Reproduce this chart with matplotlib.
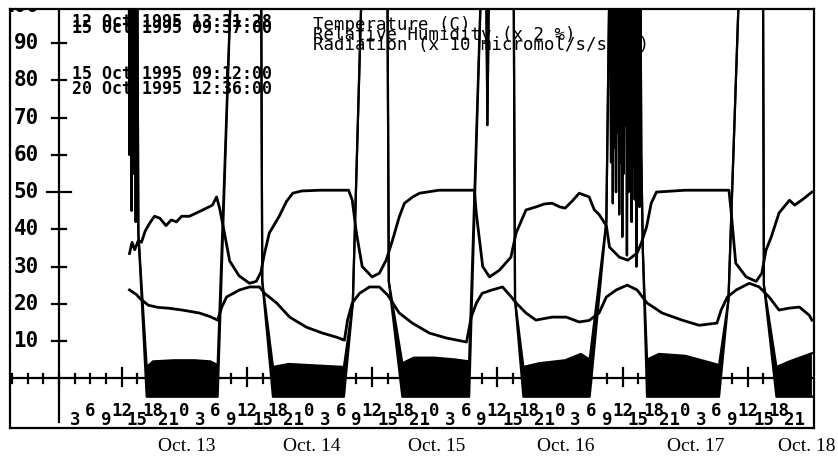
import matplotlib
matplotlib.use("Agg")
import matplotlib.pyplot as plt

# time axis: hours since 12 Oct 1995 00:00
temp_h = [13.5, 14.8, 15.6, 17.1, 19.0, 21.0, 23.6, 26.9, 29.0, 30.4, 31.2, 32.1,
          34.6, 36.5, 38.4, 39.4, 41.7, 44.2, 47.4, 50.5, 53.2, 54.7, 55.3, 56.2,
          57.6, 59.5, 61.4, 63.0, 65.2, 67.7, 71.0, 74.2, 78.1, 79.0, 80.0, 81.1,
          83.0, 85.0, 86.7, 87.6, 89.5, 91.4, 94.5, 97.2, 99.7, 101.6, 103.5, 104.9,
          106.8, 108.9, 110.8, 112.7, 115.6, 119.4, 122.7, 126.1, 126.9, 128.1,
          129.8, 132.3, 134.2, 136.1, 138.0, 139.9, 141.9, 143.8, 144.3]
temp_v = [23.7, 22.5, 21.3, 19.6, 19.0, 18.8, 18.3, 17.5, 16.5, 15.6, 19.1, 21.8,
          23.7, 24.5, 24.5, 22.8, 20.2, 16.4, 13.7, 12.1, 11.0, 10.2, 15.6, 20.2,
          22.8, 24.5, 24.5, 22.3, 17.5, 14.8, 12.1, 10.8, 9.7, 16.4, 20.2, 22.8,
          23.7, 24.5, 21.8, 20.2, 17.5, 15.6, 16.4, 16.4, 15.1, 15.5, 17.5, 21.8,
          23.7, 25.0, 23.7, 20.2, 17.5, 15.6, 14.2, 14.8, 18.3, 21.8,
          23.7, 25.5, 24.5, 21.8, 18.3, 18.8, 19.1, 16.9, 15.6]

rh_h = [13.5, 14.0, 14.5, 15.2, 15.8, 16.5, 17.3, 18.3, 19.3, 20.5, 21.5, 22.5,
        23.5, 25.0, 26.5, 28.0, 29.4, 30.2, 30.8, 31.7, 32.7, 34.5, 36.5, 37.8,
        38.7, 39.3, 40.3, 42.2, 43.6, 44.8, 46.5, 50.0, 55.5, 56.2, 57.0, 58.1,
        60.0, 61.4, 62.7, 63.9, 65.2, 66.2, 67.8, 69.1, 72.8, 79.6, 80.0, 81.2,
        82.5, 84.4, 86.6, 87.6, 89.5, 91.4, 93.0, 94.5, 96.0, 97.0, 98.3, 99.7,
        101.6, 102.6, 103.5, 104.9, 105.5, 107.4, 109.0, 110.8, 111.6, 112.6,
        113.5, 114.5, 120.0, 128.4, 128.8, 129.7, 131.7, 133.6, 134.7, 135.5,
        136.5, 138.0, 140.0, 141.0, 142.5, 144.3]
rh_v = [33.5, 36.5, 34.5, 37.0, 36.5, 39.5, 41.5, 43.5, 43.0, 41.0, 42.5, 42.0,
        43.5, 43.5, 44.5, 45.5, 46.5, 48.7, 45.5, 39.0, 31.5, 27.5, 25.5, 26.0,
        28.5, 33.0, 39.0, 43.5, 47.5, 49.7, 50.3, 50.5, 50.5, 47.8, 39.0, 30.0,
        27.2, 28.2, 31.7, 37.0, 43.3, 47.0, 48.7, 49.7, 50.5, 50.5, 44.0, 30.0,
        27.2, 29.0, 32.5, 39.0, 45.2, 46.0, 46.8, 47.0, 46.0, 45.7, 47.5, 49.7,
        48.7, 45.2, 44.0, 41.0, 35.2, 32.5, 31.7, 33.6, 36.3, 40.6,
        47.0, 50.0, 50.5, 50.5, 45.0, 30.9, 27.2, 26.0, 28.2, 34.4,
        37.9, 44.4, 47.8, 46.5, 48.0, 50.0]

# radiation trace (values above 100 run off the top of the plot);
# at night the signal is a noisy band from rad_floor up to the value given
rad_h = [13.3, 13.5, 13.7, 13.9, 14.1, 14.3, 14.5, 14.7, 14.9, 15.2, 16.8,
         18.0, 22.0, 26.0, 29.0, 30.4, 33.3, 38.7, 38.95, 41.0, 44.0, 48.0, 52.0,
         54.6, 56.3, 58.3, 62.9, 63.2, 65.8, 68.0, 72.0, 76.0, 78.6, 81.2, 81.8,
         82.1, 82.5, 87.1, 87.4, 89.0, 92.0, 97.0, 100.0, 101.7, 104.9, 105.6,
         105.8, 106.0, 106.15, 106.3, 106.45, 106.6, 106.75, 106.9, 107.05, 107.2,
         107.35, 107.5, 107.65, 107.8, 107.95, 108.1, 108.25, 108.4, 108.55, 108.7,
         108.85, 109.0, 109.15, 109.3, 109.45, 109.6, 109.75, 109.9, 110.05, 110.2,
         110.35, 110.5, 110.65, 110.8, 110.95, 111.1, 111.25, 111.4, 111.6, 111.9,
         112.7, 115.0, 120.0, 124.0, 126.5, 128.3, 130.7, 134.9, 135.1, 137.5,
         140.0, 144.3]
rad_v = [150, 60, 150, 45, 150, 55, 150, 42, 150, 39, 3.0,
         4.5, 4.8, 4.8, 4.5, 3.5, 120, 120, 26, 3.0, 3.8, 3.5, 3.2,
         3.0, 20, 120, 120, 26, 4.0, 5.5, 5.5, 5.0, 4.5, 120, 120,
         68, 120, 120, 21, 3.0, 4.0, 4.8, 6.5, 5.0, 42, 120,
         58, 120, 47, 120, 62, 120, 50, 120, 66, 120,
         44, 120, 58, 120, 38, 120, 55, 120, 68, 120,
         33, 120, 50, 120, 60, 120, 42, 120, 57, 120,
         48, 120, 30, 120, 54, 120, 46, 120, 60, 34,
         5.0, 6.5, 6.0, 4.5, 3.5, 21, 120, 120, 25, 3.0,
         4.5, 6.7]
rad_floor = -5

y_ticks = [10, 20, 30, 40, 50, 60, 70, 80, 90, 100]
hour_ticks = list(range(-9, 145, 3))
date_labels = ["Oct. 13", "Oct. 14", "Oct. 15", "Oct. 16", "Oct. 17", "Oct. 18"]
date_pos = [24.4, 48.4, 72.3, 97.2, 122.1, 143.4]

header_left = ["12 Oct 1995 13:31:28", "15 Oct 1995 09:37:00",
               "15 Oct 1995 09:12:00", "20 Oct 1995 12:36:00"]
header_right = ["Temperature (C)", "Relative Humidity (x 2 %)",
                "Radiation (x 10 micromol/s/sq.m)"]

W, H = 838, 459
fig = plt.figure(figsize=(W / 100, H / 100), dpi=100)
ax = fig.add_axes([10 / W, 31 / H, 804 / W, 419 / H])
ax.set_xlim(-9.4, 144.7)
ax.set_ylim(-13.4, 99.2)
ax.set_xticks([])
ax.set_yticks([])
for s in ax.spines.values():
    s.set_linewidth(1.6)

blocky = "DejaVu Sans Mono"

# axes drawn like the old plotter: zero line and y axis inside the frame
ax.axhline(0, color="k", lw=1.6)
ax.plot([0, 0], [-11.8, 100], color="k", lw=1.6)
for v in y_ticks:
    half = 2.3 if v == 50 else 1.3
    ax.plot([-half, half], [v, v], color="k", lw=1.6)
    ax.text(-3.9, v, str(v), ha="right", va="center", fontsize=15,
            fontweight="bold", family=blocky, clip_on=True)

for h in hour_ticks:
    if h % 24 == 12:
        ax.plot([h, h], [-2.2, 2.6], color="k", lw=1.6)
    else:
        ax.plot([h, h], [-1.3, 1.1], color="k", lw=1.6)
    if 0 < h <= 141:
        yl = -11.3 if (h // 3) % 2 == 1 else -8.9
        ax.text(h, yl, str(h % 24), ha="center", va="center", fontsize=12.5,
                fontweight="bold", family=blocky)

# data
rad_lo = [v if v > 10 else rad_floor for v in rad_v]
ax.fill_between(rad_h, rad_lo, rad_v, color="k", lw=0)
ax.plot(rad_h, rad_v, color="k", lw=1.6)
ax.plot(rad_h, rad_lo, color="k", lw=1.6)
ax.plot(rh_h, rh_v, color="k", lw=2.0)
ax.plot(temp_h, temp_v, color="k", lw=2.0)

# header text
for txt, y in zip(header_left, [13, 19, 65, 80]):
    fig.text(72 / W, 1 - y / H, txt, ha="left", va="top", fontsize=12,
             fontweight="bold", family="DejaVu Sans Mono")
for txt, y in zip(header_right, [16, 26, 36]):
    fig.text(313 / W, 1 - y / H, txt, ha="left", va="top", fontsize=12.5,
             family="DejaVu Sans Mono")

# date labels under the frame
for lab, h in zip(date_labels, date_pos):
    ax.text(h, -18.3, lab, ha="center", va="center", fontsize=14,
            family="Liberation Serif", clip_on=False)

fig.savefig("out.png", dpi=100)
